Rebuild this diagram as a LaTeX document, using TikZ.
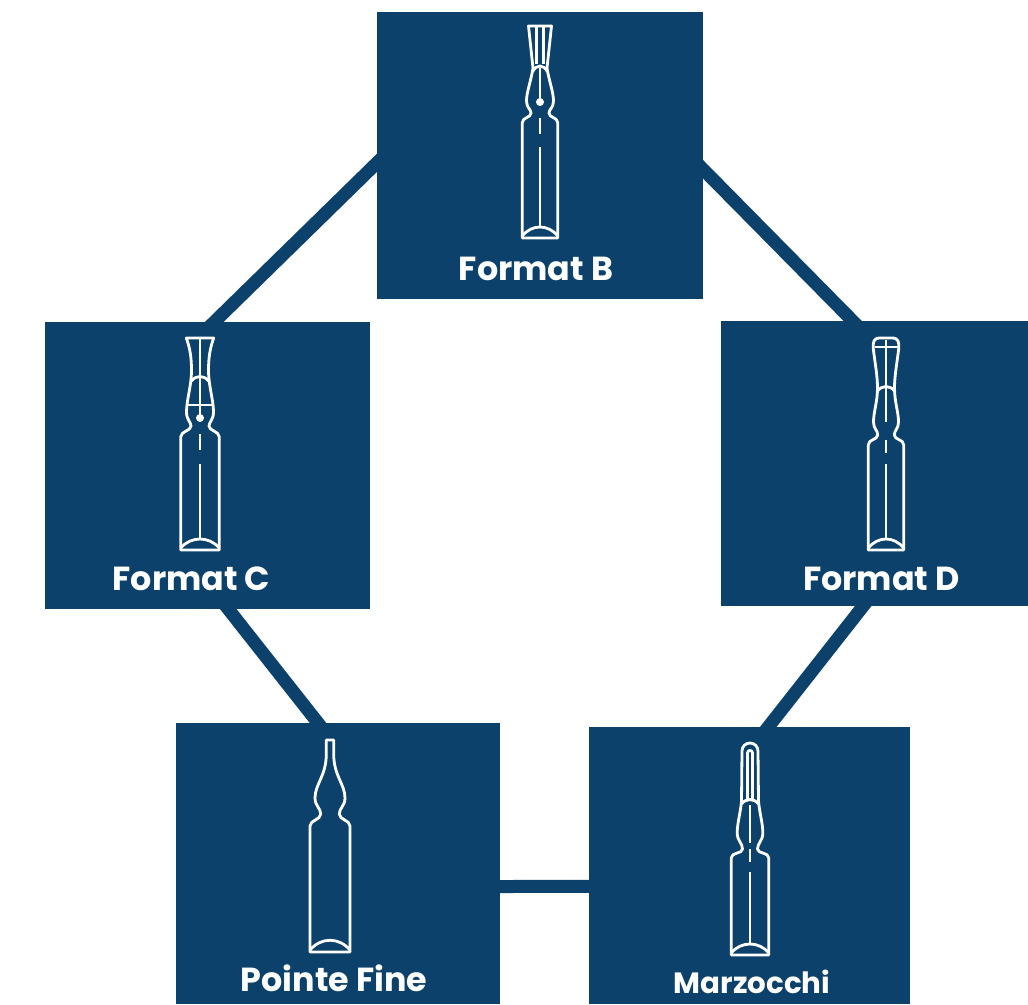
\documentclass[tikz,border=0pt]{standalone}
\usepackage{fontspec}
\setmainfont{Poppins}
\usetikzlibrary{calc,backgrounds}
\definecolor{navy}{HTML}{0B416A}
\tikzset{
  box/.style={fill=navy, inner sep=0pt},
  link/.style={draw=navy, line width=9.75pt, shorten <=-12pt, shorten >=-12pt},
  amp/.style={draw=white, line width=2.1pt, line join=round},
  lbl/.style={text=white, font=\fontsize{25}{29}\selectfont\bfseries, anchor=base, inner sep=0pt}
}
\begin{document}
\begin{tikzpicture}[x=0.75pt, y=-0.75pt]
	\useasboundingbox (0,0) rectangle (1028,1004);
	% boxes
	\node[box, minimum width=326*0.75pt, minimum height=287*0.75pt] (fmtB) at (540,155.5) {};
	\node[box, minimum width=325*0.75pt, minimum height=287*0.75pt] (fmtC) at (207.5,465) {};
	\node[box, minimum width=307*0.75pt, minimum height=285*0.75pt] (fmtD) at (874.5,463.5) {};
	\node[box, minimum width=324*0.75pt, minimum height=281*0.75pt] (pointe) at (338,863.7) {};
	\node[box, minimum width=321*0.75pt, minimum height=277*0.75pt] (marz) at (749.5,865.4) {};
	% links
	\begin{scope}[on background layer]
		\draw[link] ($(fmtB.west)+(0,7.5)$) -- ($(fmtC.north)+(7.5,0)$);
		\draw[link] ($(fmtB.east)+(0,14)$) -- ($(fmtD.north)+(-22,0)$);
		\draw[link] ($(fmtC.south)+(20.5,0)$) -- ($(pointe.north)+(-20,0)$);
		\draw[link] ($(fmtD.south)+(-11.5,0)$) -- ($(marz.north)+(19,0)$);
		\draw[link] ($(pointe.east)+(0,22.8)$) -- ($(marz.west)+(0,21)$);
	\end{scope}
	% ampoule B
	\begin{scope}[shift={(540,26)}]
		\foreach \s in {1,-1}
			\draw[amp, xscale=\s] (0,0) -- (11.5,0) -- (7,42) .. controls (9,55) and (13.5,66) .. (13.5,75) .. controls (13.5,82) and (9,83) .. (9,87) .. controls (9,92) and (17.8,91) .. (17.8,97) -- (17.8,212) -- (0,212);
		\draw[amp] (-3.5,0) -- (-3.5,38) (3.5,0) -- (3.5,38);
		\draw[amp] (-7.5,46) .. controls (-4,38) and (4,38) .. (7.5,46);
		\draw[amp] (0,42) -- (0,76);
		\fill[white] (0,76) circle (4);
		\draw[amp] (0,92) -- (0,108) (0,121) -- (0,200);
		\draw[amp] (-17.8,210) .. controls (-8,198) and (8,198) .. (17.8,210);
	\end{scope}
	% ampoule C
	\begin{scope}[shift={(200,338)}]
		\foreach \s in {1,-1}
			\draw[amp, xscale=\s] (0,0) -- (13.7,0) .. controls (10,10) and (8.5,20) .. (8.5,32) .. controls (8.5,48) and (13.5,62) .. (13.5,74) .. controls (13.5,82) and (9,84) .. (9,88) .. controls (9,93) and (19.3,93) .. (19.3,99) -- (19.3,212) -- (0,212);
		\draw[amp] (0,0) -- (0,80);
		\draw[amp] (-8.6,43) .. controls (-4,37) and (4,37) .. (8.6,43);
		\draw[amp] (-12.5,67) -- (12.5,67);
		\fill[white] (0,80) circle (4);
		\draw[amp] (0,96) -- (0,112) (0,126) -- (0,200);
		\draw[amp] (-19.3,210) .. controls (-9,198) and (9,198) .. (19.3,210);
	\end{scope}
	% ampoule D
	\begin{scope}[shift={(886,338)}]
		\foreach \s in {1,-1}
			\draw[amp, xscale=\s] (0,0) -- (6,0) .. controls (12.8,0) and (12.8,4) .. (12.8,10) .. controls (11,25) and (8.5,38) .. (8.5,50) .. controls (8.5,64) and (12.5,74) .. (12.5,84) .. controls (12.5,91) and (8.3,92) .. (8.3,97) .. controls (8.3,102) and (17.7,101) .. (17.7,107) -- (17.7,212) -- (0,212);
		\draw[amp] (-11.5,9) -- (11.5,9);
		\draw[amp] (0,2) -- (0,84);
		\draw[amp] (-8.5,53) .. controls (-4,47) and (4,47) .. (8.5,53);
		\draw[amp] (0,102) -- (0,115) (0,126) -- (0,200);
		\draw[amp] (-17.7,210) .. controls (-8,198) and (8,198) .. (17.7,210);
	\end{scope}
	% ampoule pointe fine
	\begin{scope}[shift={(330,740)}]
		\foreach \s in {1,-1}
			\draw[amp, xscale=\s] (0,0) -- (3.7,0) -- (3.7,14) .. controls (3.7,36) and (15,44) .. (15,58) .. controls (15,66) and (9.3,68) .. (9.3,74) .. controls (9.3,80) and (20,80) .. (20,86) -- (20,212) -- (0,212);
		\draw[amp] (-20,210) .. controls (-9,197) and (9,197) .. (20,210);
	\end{scope}
	% ampoule marzocchi
	\begin{scope}[shift={(750,743)}]
		\foreach \s in {1,-1}
			\draw[amp, xscale=\s] (0,0) .. controls (4.5,0) and (8,3.5) .. (8,8) -- (8.5,58) .. controls (9.5,70) and (12.8,80) .. (12.8,90) .. controls (12.8,98) and (7.5,100) .. (7.5,106) .. controls (7.5,111) and (18.8,109) .. (18.8,115) -- (18.8,212) -- (0,212);
		\draw[amp] (-2.5,58) -- (-2.5,10) .. controls (-2.5,6.5) and (2.5,6.5) .. (2.5,10) -- (2.5,58);
		\draw[amp] (-8.5,61) .. controls (-4,55) and (4,55) .. (8.5,61);
		\draw[amp] (0,62) -- (0,100) (0,106) -- (0,119) (0,129) -- (0,202);
		\draw[amp] (-18.8,210) .. controls (-9,198) and (9,198) .. (18.8,210);
	\end{scope}
	% labels
	\node[lbl] (txtB) at (536,280) {Format B};
	\node[lbl] (txtC) at (191.5,590) {Format C};
	\node[lbl] (txtD) at (881.5,590) {Format D};
	\node[lbl] (txtP) at (334,991) {Pointe Fine};
	\node[lbl, font=\fontsize{22}{26}\selectfont\bfseries] (txtM) at (752,993) {Marzocchi};
\end{tikzpicture}
\end{document}
